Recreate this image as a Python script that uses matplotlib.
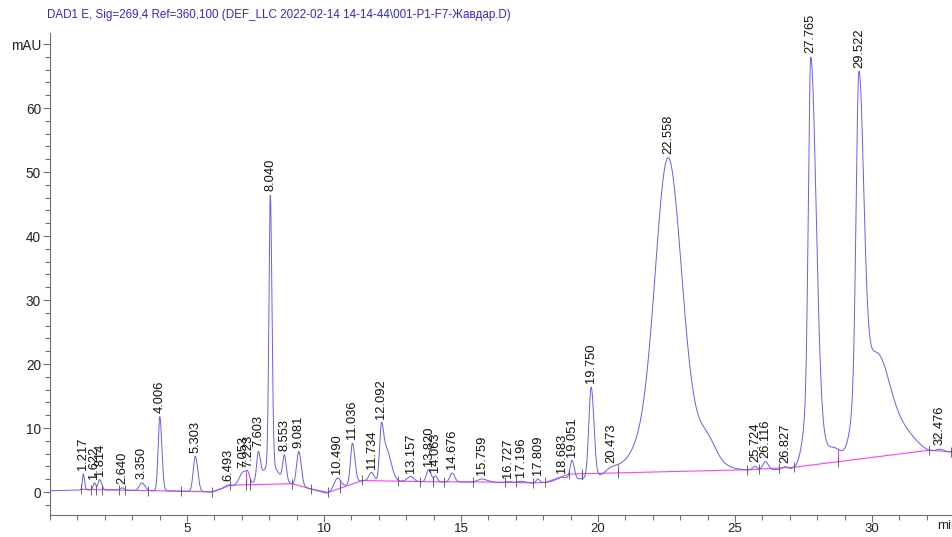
import numpy as np
import matplotlib
matplotlib.use("Agg")
import matplotlib.pyplot as plt
from matplotlib.ticker import MultipleLocator, FixedLocator, FixedFormatter

plt.rcParams["font.family"] = ["Liberation Sans", "DejaVu Sans"]

TITLE = "DAD1 E, Sig=269,4 Ref=360,100 (DEF_LLC 2022-02-14 14-14-44\\001-P1-F7-Жавдар.D)"

# Integrated peaks: retention time (min), height above drift (mAU), left/right widths (min)
peak_rt = [1.217, 1.622, 1.814, 2.640, 3.350, 4.006, 5.303, 6.493, 7.053, 7.223,
           7.603, 8.040, 8.553, 9.081, 10.490, 11.036, 11.734, 12.092, 13.157, 13.820,
           14.063, 14.676, 15.759, 16.727, 17.196, 17.809, 18.683, 19.051, 19.750, 20.473,
           22.558, 25.724, 26.116, 26.827, 27.765, 29.522, 32.476]
peak_h = [2.5, 1.1, 1.6, 0.35, 1.2, 11.6, 5.5, 0.3, 2.0, 1.6,
          4.2, 42.2, 3.9, 5.4, 1.6, 6.3, 1.3, 8.0, 0.8, 1.9,
          0.9, 1.4, 0.5, 0.15, 0.25, 0.6, 0.5, 2.9, 14.1, 0.7,
          40.0, 0.6, 1.3, 0.4, 52.0, 47.5, 0.5]
peak_sl = [0.035, 0.05, 0.06, 0.07, 0.09, 0.06, 0.075, 0.10, 0.14, 0.07,
           0.06, 0.05, 0.06, 0.08, 0.12, 0.07, 0.09, 0.065, 0.12, 0.08,
           0.07, 0.08, 0.15, 0.10, 0.15, 0.06, 0.20, 0.07, 0.085, 0.20,
           0.45, 0.08, 0.10, 0.10, 0.085, 0.10, 0.15]
peak_sr = [0.045, 0.05, 0.07, 0.07, 0.11, 0.075, 0.09, 0.10, 0.10, 0.07,
           0.07, 0.06, 0.07, 0.09, 0.12, 0.09, 0.09, 0.075, 0.12, 0.08,
           0.07, 0.09, 0.20, 0.10, 0.15, 0.06, 0.20, 0.08, 0.10, 0.25,
           0.47, 0.08, 0.10, 0.10, 0.19, 0.17, 0.15]

# Unlabelled components: peak feet, shoulders and tails
extra_rt = [8.040, 12.27, 22.558, 24.0, 27.765, 28.6, 29.522, 30.25, 31.0]
extra_h = [3.0, 5.0, 9.5, 2.5, 12.0, 2.6, 11.0, 13.0, 4.5]
extra_sl = [0.30, 0.10, 0.95, 0.30, 0.22, 0.30, 0.25, 0.40, 0.50]
extra_sr = [0.30, 0.17, 1.00, 0.30, 0.28, 0.30, 0.40, 0.40, 0.55]

# Detector drift
drift_t = [0.0, 1.0, 2.3, 3.0, 4.6, 5.9, 6.5, 7.0, 8.8, 9.5, 10.1, 10.5, 11.4,
           13.5, 15.4, 17.6, 18.1, 18.9, 20.7, 25.4, 27.1, 28.8, 32.1, 33.0]
drift_v = [0.2, 0.3, 0.35, 0.25, 0.15, 0.0, 0.8, 1.1, 1.2, 0.5, -0.2, 0.6, 1.8,
           1.6, 1.55, 1.4, 1.5, 1.9, 2.4, 3.3, 3.6, 4.3, 5.9, 6.3]

# Integration events
base_events = [1.13, 5.91, 6.57, 8.83, 9.51, 10.15, 11.40, 13.50, 14.38, 15.43,
               16.59, 17.64, 18.08, 18.93, 25.43, 27.15, 32.09, 32.90]
drop_times = [7.14, 7.30, 10.58, 13.99, 19.40, 20.74, 25.89, 28.77]
tick_times = [1.13, 1.48, 1.68, 1.90, 2.53, 2.74, 3.56, 4.77, 5.91, 6.57, 7.14, 7.30,
              8.83, 9.51, 10.15, 10.58, 11.40, 12.70, 13.50, 13.99, 14.38, 15.43,
              16.59, 17.00, 17.64, 18.08, 18.93, 19.40, 20.74, 25.43, 25.89, 26.62,
              27.15, 28.77, 32.09, 32.90]

x_major = [5, 10, 15, 20, 25, 30]
y_major = [0, 10, 20, 30, 40, 50, 60, 70]
y_labels = ["0", "10", "20", "30", "40", "50", "60", "mAU"]


def component(t, rt, h, sl, sr):
    s = np.where(t < rt, sl, sr)
    return h * np.exp(-0.5 * ((t - rt) / s) ** 2)


def signal(t):
    t = np.asarray(t, dtype=float)
    y = np.interp(t, drift_t, drift_v)
    for rt, h, sl, sr in zip(peak_rt, peak_h, peak_sl, peak_sr):
        y = y + component(t, rt, h, sl, sr)
    for rt, h, sl, sr in zip(extra_rt, extra_h, extra_sl, extra_sr):
        y = y + component(t, rt, h, sl, sr)
    return y


t = np.linspace(0.0, 32.95, 8000)
y = signal(t)

ev_y = signal(base_events)


def baseline(x):
    return np.interp(x, base_events, ev_y)


fig = plt.figure(figsize=(9.52, 5.37), dpi=100)
ax = fig.add_axes([50 / 952, 22 / 537, 902 / 952, 482 / 537])
ax.set_xlim(0, 902 / 27.4)
ax.set_ylim(-23 / 6.4, 459 / 6.4)

# chromatogram trace
ax.plot(t, y, color="#5f5fff", lw=0.7, zorder=3)

# integration baseline
tb = np.linspace(base_events[0], base_events[-1], 3000)
ax.plot(tb, baseline(tb), color="#ff40ff", lw=0.8, zorder=2)
for td in drop_times:
    ax.plot([td, td], [baseline(td), signal(td)], color="#ff40ff", lw=0.8, zorder=2)
ax.plot(tick_times, baseline(tick_times), ls="none", marker="|", ms=7, mew=0.6,
        color="#505050", zorder=4)

# retention time labels
for rt in peak_rt:
    top = float(signal(rt))
    ax.text(rt, top + 0.6, f"{rt:.3f}", rotation=90, ha="center", va="bottom",
            fontsize=9.3, color="#111111", clip_on=False, zorder=5)

for side in ("top", "right"):
    ax.spines[side].set_visible(False)
for side in ("left", "bottom"):
    ax.spines[side].set_color("#707070")
    ax.spines[side].set_linewidth(0.8)

ax.xaxis.set_major_locator(FixedLocator(x_major))
ax.xaxis.set_minor_locator(MultipleLocator(1))
ax.yaxis.set_major_locator(FixedLocator(y_major))
ax.yaxis.set_major_formatter(FixedFormatter(y_labels))
ax.yaxis.set_minor_locator(MultipleLocator(2))
ax.tick_params(which="major", length=5, width=0.8, color="#707070",
               labelsize=9.8, labelcolor="#222222", pad=1.5)
ax.tick_params(axis="x", which="major", pad=0.5, labelsize=9.5)
ax.tick_params(which="minor", length=3.5, width=0.8, color="#707070")

fig.text(937 / 952, 1 - 526 / 537, "min", fontsize=9.5, color="#222222",
         ha="left", va="center")
fig.text(47 / 952, 1 - 15 / 537, TITLE, fontsize=8.4, color="#2a2ae6",
         ha="left", va="center")

fig.savefig("out.png", dpi=100)
